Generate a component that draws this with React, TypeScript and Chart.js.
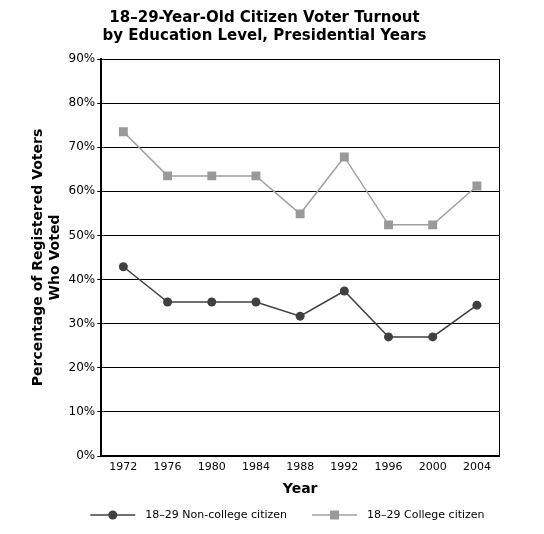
import React, { useEffect, useRef } from "react";
import { Chart, registerables } from "chart.js";

Chart.register(...registerables);

const years = ["1972", "1976", "1980", "1984", "1988", "1992", "1996", "2000", "2004"];
const nonCollege = [42.9, 34.9, 34.9, 34.9, 31.7, 37.4, 27.0, 27.0, 34.2];
const college = [73.5, 63.5, 63.5, 63.5, 54.9, 67.8, 52.4, 52.4, 61.2];
const yTicks = [0, 10, 20, 30, 40, 50, 60, 70, 80, 90];
const seriesNames = ["18\u201329 Non-college citizen", "18\u201329 College citizen"];

const FONT = "'DejaVu Sans', Verdana, sans-serif";
const DARK = "#404040";
const LIGHT = "#a0a0a0";
const LIGHT_MARK = "#999999";

const framePlugin = {
  id: "frame",
  afterDatasetsDraw(chart: any) {
    const { ctx, chartArea } = chart;
    ctx.save();
    ctx.strokeStyle = "#000";
    ctx.lineWidth = 1;
    ctx.beginPath();
    ctx.moveTo(chartArea.right + 0.5, chartArea.top);
    ctx.lineTo(chartArea.right + 0.5, chartArea.bottom);
    ctx.stroke();
    ctx.restore();
  },
};

const legendPlugin = {
  id: "customLegend",
  afterDraw(chart: any) {
    const { ctx, chartArea } = chart;
    const y = chart.height - 19;
    ctx.save();
    ctx.font = `11px ${FONT}`;
    ctx.textBaseline = "middle";
    ctx.textAlign = "left";
    let x = chartArea.left - 11;
    const styles = [
      { line: DARK, mark: DARK, square: false },
      { line: LIGHT, mark: LIGHT_MARK, square: true },
    ];
    seriesNames.forEach((name, i) => {
      const s = styles[i];
      ctx.strokeStyle = s.line;
      ctx.lineWidth = 1.5;
      ctx.beginPath();
      ctx.moveTo(x, y);
      ctx.lineTo(x + 45, y);
      ctx.stroke();
      ctx.fillStyle = s.mark;
      if (s.square) {
        ctx.fillRect(x + 22.5 - 4.5, y - 4.5, 9, 9);
      } else {
        ctx.beginPath();
        ctx.arc(x + 22.5, y, 4.5, 0, Math.PI * 2);
        ctx.fill();
      }
      ctx.fillStyle = "#000";
      ctx.fillText(name, x + 55, y);
      x += 55 + ctx.measureText(name).width + 25;
    });
    ctx.restore();
  },
};

export default function App() {
  const ref = useRef<HTMLCanvasElement>(null);
  useEffect(() => {
    if (!ref.current) return;
    const chart = new Chart(ref.current, {
      type: "line",
      data: {
        labels: years,
        datasets: [
          {
            label: seriesNames[0],
            data: nonCollege,
            borderColor: DARK,
            backgroundColor: DARK,
            borderWidth: 1.5,
            pointStyle: "circle",
            pointRadius: 4.5,
            pointBackgroundColor: DARK,
            pointBorderWidth: 0,
            tension: 0,
          },
          {
            label: seriesNames[1],
            data: college,
            borderColor: LIGHT,
            backgroundColor: LIGHT_MARK,
            borderWidth: 1.5,
            pointStyle: "rect",
            pointRadius: 6.3,
            pointBackgroundColor: LIGHT_MARK,
            pointBorderWidth: 0,
            tension: 0,
          },
        ],
      },
      options: {
        animation: false,
        responsive: false,
        layout: { padding: { left: 30, right: 45, top: 4, bottom: 36 } },
        plugins: {
          title: {
            display: true,
            text: ["18\u201329-Year-Old Citizen Voter Turnout", "by Education Level, Presidential Years"],
            color: "#000",
            font: { family: FONT, size: 15, weight: "bold", lineHeight: 1.2 },
            padding: { top: 5, bottom: 14 },
          },
          legend: { display: false },
          tooltip: { enabled: false },
        },
        scales: {
          x: {
            offset: true,
            grid: { display: false, drawTicks: false },
            border: { display: true, color: "#000", width: 2 },
            ticks: { color: "#000", font: { family: FONT, size: 11 }, padding: 5, maxRotation: 0 },
            title: {
              display: true,
              text: "Year",
              color: "#000",
              font: { family: FONT, size: 14, weight: "bold" },
              padding: { top: 2, bottom: 0 },
            },
          },
          y: {
            min: 0,
            max: 90,
            afterBuildTicks: (axis: any) => {
              axis.ticks = yTicks.map((v) => ({ value: v }));
            },
            grid: { color: "#000", lineWidth: 1, tickLength: 4, drawTicks: true },
            border: { display: true, color: "#000", width: 2 },
            ticks: {
              color: "#000",
              font: { family: FONT, size: 12 },
              padding: 2,
              callback: (v: any) => v + "%",
            },
            title: {
              display: true,
              text: ["Percentage of Registered Voters", "Who Voted"],
              color: "#000",
              font: { family: FONT, size: 14, weight: "bold", lineHeight: 1.2 },
              padding: { top: 0, bottom: 3 },
            },
          },
        },
      },
      plugins: [framePlugin, legendPlugin],
    });
    return () => chart.destroy();
  }, []);
  return (
    <div style={{ position: "absolute", left: 0, top: 0, width: 544, height: 534, background: "#fff" }}>
      <canvas ref={ref} width={544} height={534} style={{ width: 544, height: 534 }} />
    </div>
  );
}
